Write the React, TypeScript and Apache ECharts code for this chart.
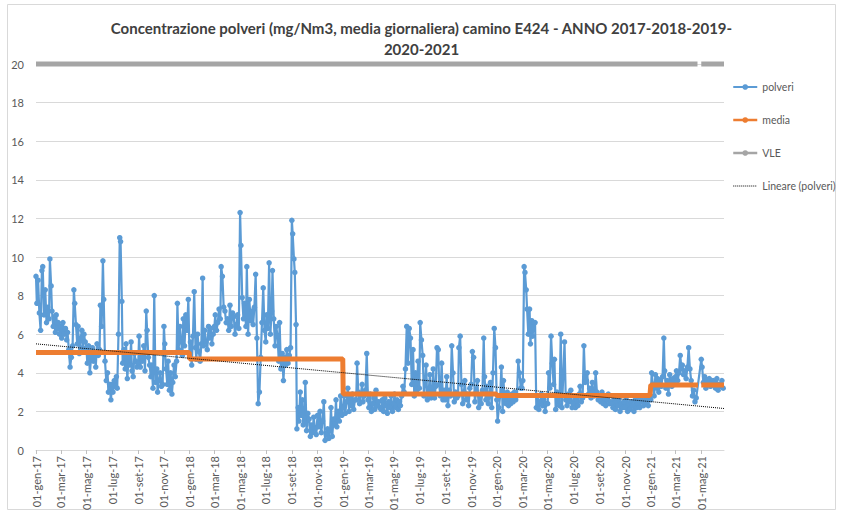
import React, { useEffect, useRef } from "react";
import * as echarts from "echarts";

// ---- Data ----
const mesi = ["gen", "feb", "mar", "apr", "mag", "giu", "lug", "ago", "set", "ott", "nov", "dic"];
const anni = [2017, 2018, 2019, 2020, 2021];
const yTickStep = 2;
const yMax = 20;

// daily dust concentrations, values read per month (gen..dic), spread across each month
const polveri2017 = [
  [9.0, 7.6, 8.8, 7.1, 6.2, 9.3, 9.5, 7.0, 8.3, 6.6, 7.4],
  [6.8, 9.9, 8.5, 7.2, 6.4, 6.9, 6.1, 7.0, 6.3, 6.6, 6.0],
  [6.4, 5.8, 6.6, 6.0, 6.3, 5.7, 6.1, 5.2, 4.3, 4.8, 5.4],
  [8.3, 7.6, 6.5, 5.5, 6.4, 5.0, 5.8, 6.2, 5.3, 6.0, 5.6],
  [5.2, 4.5, 5.4, 4.0, 4.8, 5.3, 4.6, 5.0, 4.3, 5.5, 4.9],
  [5.2, 7.5, 6.4, 9.8, 7.8, 4.6, 3.6, 4.0, 3.0, 3.4, 2.6],
  [3.4, 3.0, 3.6, 3.3, 3.8, 3.2, 6.0, 11.0, 10.8, 7.7, 4.5, 5.2],
  [4.2, 5.5, 3.7, 4.8, 4.4, 5.6, 4.1, 3.8, 5.0, 4.6, 4.3],
  [4.5, 5.9, 4.3, 5.0, 4.6, 5.4, 4.1, 7.2, 6.2, 4.8, 4.4],
  [3.8, 4.4, 3.2, 8.0, 3.5, 4.2, 3.0, 3.6, 4.0, 3.3, 3.4],
  [6.4, 5.5, 4.2, 3.4, 4.6, 3.1, 4.0, 2.9, 3.5, 4.4, 3.8],
  [4.6, 7.6, 5.2, 6.4, 5.6, 4.9, 6.8, 5.4, 7.0, 6.2, 7.8],
];
const polveri2018 = [
  [4.8, 5.6, 4.4, 5.9, 8.2, 5.3, 4.7, 6.0, 5.1, 4.6, 5.5],
  [8.9, 5.4, 6.2, 5.6, 5.2, 6.4, 5.8, 6.3, 5.5, 6.0],
  [6.4, 7.0, 6.2, 6.6, 7.3, 6.8, 9.5, 9.0, 7.4, 7.2, 6.6],
  [6.8, 6.2, 7.5, 6.4, 7.1, 6.9, 6.0, 6.5, 7.0, 6.3],
  [12.3, 10.6, 7.9, 6.8, 7.6, 6.4, 9.5, 6.0, 7.8, 6.7, 7.2],
  [6.5, 7.4, 9.1, 5.8, 2.4, 3.0, 4.8, 6.6, 8.4, 6.2],
  [5.6, 7.0, 6.3, 9.7, 6.0, 7.2, 9.3, 6.8, 5.4, 6.4, 5.9],
  [4.6, 6.6, 4.2, 5.0, 3.6, 4.8, 4.4, 5.2, 4.5, 4.9, 5.3],
  [11.9, 11.2, 9.9, 9.2, 6.5, 1.1, 2.2, 1.5, 3.0, 1.8, 2.6, 1.3],
  [1.4, 3.5, 1.0, 1.9, 1.6, 0.7, 1.3, 0.9, 1.7, 1.1, 0.8],
  [1.8, 1.2, 2.0, 0.9, 1.5, 2.5, 0.5, 0.8, 1.1, 0.6],
  [1.0, 2.2, 0.7, 1.6, 1.3, 2.6, 1.2, 2.0, 1.5, 2.8, 1.8],
];
const polveri2019 = [
  [2.2, 2.8, 1.9, 2.5, 3.2, 2.0, 2.7, 2.3, 2.9, 2.1, 2.6],
  [2.6, 4.5, 3.0, 2.4, 2.9, 3.4, 2.5, 2.8, 3.1, 5.0],
  [2.6, 2.2, 2.9, 2.0, 2.4, 2.7, 2.1, 3.1, 2.3, 2.5, 2.2],
  [2.1, 2.6, 2.0, 2.7, 2.3, 1.9, 2.5, 2.2, 2.8, 2.0],
  [2.4, 2.9, 2.2, 2.6, 2.1, 2.5, 2.3, 2.8, 3.3, 3.0, 4.2],
  [6.4, 4.5, 6.3, 5.8, 3.4, 5.2, 2.8, 4.0, 3.1, 4.6],
  [3.2, 6.6, 5.7, 4.9, 2.8, 3.6, 4.4, 2.6, 3.0, 3.9, 2.7],
  [3.0, 4.2, 2.7, 3.3, 5.3, 5.2, 3.4, 2.8, 4.5, 2.6, 3.1],
  [2.6, 3.8, 2.3, 3.1, 2.8, 5.4, 4.0, 2.5, 3.0, 2.7],
  [2.8, 5.3, 5.9, 3.4, 2.4, 3.0, 3.6, 2.6, 2.9, 2.3, 3.2],
  [3.4, 5.1, 4.8, 2.5, 3.0, 3.6, 2.2, 2.8, 2.4, 3.1],
  [5.8, 3.8, 2.6, 3.3, 2.4, 2.9, 3.5, 2.2, 4.0, 6.3, 5.3],
];
const polveri2020 = [
  [2.6, 1.5, 2.2, 2.8, 4.3, 2.0, 3.6, 2.5, 2.4, 3.0, 2.3],
  [2.7, 2.4, 2.9, 2.5, 3.0, 2.6, 2.8, 4.6, 4.0, 3.2],
  [3.2, 3.6, 9.5, 9.2, 8.3, 7.3, 6.0, 7.3, 5.5, 6.7, 5.9, 6.6],
  [6.6, 2.2, 2.8, 2.1, 2.5, 2.9, 2.3, 2.6, 2.0, 2.4],
  [2.4, 4.0, 3.2, 5.9, 4.5, 3.4, 4.7, 2.1, 3.0, 2.5, 2.3],
  [6.0, 2.2, 3.8, 5.6, 2.6, 2.3, 2.9, 2.5, 3.1, 2.2],
  [2.4, 2.8, 2.2, 2.6, 2.3, 2.9, 3.3, 2.5, 2.7, 5.4, 3.5],
  [3.6, 4.0, 2.9, 3.2, 2.7, 3.5, 3.0, 2.8, 4.0, 3.0, 2.6],
  [2.8, 2.5, 3.0, 2.4, 2.7, 2.3, 2.6, 2.9, 2.4, 2.5],
  [2.4, 2.2, 2.7, 2.1, 2.5, 2.3, 2.6, 2.0, 2.4, 2.2, 2.5],
  [2.2, 2.6, 2.0, 2.4, 2.1, 2.5, 2.3, 2.0, 2.6, 2.2],
  [2.4, 2.6, 2.2, 2.7, 2.5, 2.3, 2.8, 2.4, 2.6, 2.3, 2.7],
];
const polveri2021 = [
  [2.6, 4.0, 3.4, 2.8, 3.9, 3.2, 3.7, 3.0, 3.6, 3.3, 3.8],
  [5.8, 4.1, 3.2, 3.6, 2.9, 3.9, 3.5, 3.3, 3.7, 3.4],
  [3.8, 4.1, 3.6, 4.0, 4.9, 4.2, 4.4, 3.9, 4.1, 3.7, 4.3],
  [5.3, 4.2, 3.6, 2.8, 3.1, 2.5, 2.7, null, null, null],
  [4.7, 4.3, 3.5, 3.8, 3.2, 3.6, 3.4, 3.7, 3.3, 3.5, 3.6],
  [3.5, 3.2, 3.7, 3.1, 3.4, 3.3, 3.6, 3.2],
];

const mediaAnnua = [5.05, 4.72, 2.9, 2.82, 3.37];
const vleValore = 20;
const lacunaDa = "2021-04-24";
const lacunaA = "2021-04-30";
const trendInizio = 5.5;
const trendFine = 2.15;
const dataInizio = [2017, 0, 1];
const dataFine = [2021, 5, 24];

// ---- Build daily category table ----
function buildDays(): string[] {
  const out: string[] = [];
  const s = Date.UTC(dataInizio[0], dataInizio[1], dataInizio[2]);
  const e = Date.UTC(dataFine[0], dataFine[1], dataFine[2]);
  for (let t = s; t <= e; t += 86400000) out.push(new Date(t).toISOString().slice(0, 10));
  return out;
}

export default function App() {
  const ref = useRef<HTMLDivElement>(null);

  useEffect(() => {
    if (!ref.current) return;
    const days = buildDays();
    const N = days.length;
    const polveri: (number | null)[] = days.map(() => null);
    const perAnno = [polveri2017, polveri2018, polveri2019, polveri2020, polveri2021];
    perAnno.forEach((mesiVals, yi) => {
      mesiVals.forEach((vals: (number | null)[], m: number) => {
        const key = `${anni[yi]}-${String(m + 1).padStart(2, "0")}-01`;
        const s = days.indexOf(key);
        if (s < 0) return;
        const dim = new Date(Date.UTC(anni[yi], m + 1, 0)).getUTCDate();
        const span = Math.min(dim, N - s);
        vals.forEach((v, k) => {
          if (v == null) return;
          polveri[s + Math.floor((k * span) / vals.length)] = v;
        });
      });
    });
    const inLacuna = (d: string) => d >= lacunaDa && d <= lacunaA;
    const media = days.map((d) => (inLacuna(d) ? null : mediaAnnua[parseInt(d.slice(0, 4)) - anni[0]]));
    const vle = days.map((d) => (inLacuna(d) ? null : vleValore));
    const trend = days.map((_, i) => (i === 0 ? trendInizio : i === N - 1 ? trendFine : null));

    const isLabel = (_i: number, v: string) =>
      v.slice(8) === "01" && parseInt(v.slice(5, 7), 10) % 2 === 1;

    const chart = echarts.init(ref.current, null, { renderer: "svg" });
    const txt = "#595959";
    chart.setOption({
      animation: false,
      textStyle: { fontFamily: "Lato" },
      title: {
        text: "Concentrazione polveri (mg/Nm3, media giornaliera) camino E424 - ANNO 2017-2018-2019-\n2020-2021",
        left: "center",
        top: 12,
        textStyle: { fontFamily: "Lato", fontSize: 15, fontWeight: "bold", color: "#404040", lineHeight: 21 },
      },
      graphic: [
        {
          type: "rect",
          shape: { x: 7.5, y: 4.5, width: 828, height: 505 },
          style: { fill: "none", stroke: "#d9d9d9", lineWidth: 1 },
          silent: true,
        },
      ],
      legend: {
        orient: "vertical",
        left: 727,
        top: 75,
        itemGap: 19,
        itemWidth: 24,
        itemHeight: 7,
        textStyle: { color: txt, fontSize: 10.5, lineHeight: 14 },
        data: [
          { name: "polveri", lineStyle: { width: 2 } },
          { name: "media", lineStyle: { width: 2.5 } },
          { name: "VLE", lineStyle: { width: 2.5 } },
          { name: "Lineare (polveri)", lineStyle: { width: 1 }, itemStyle: { opacity: 0 } },
        ],
      },
      grid: { left: 36, right: 119, top: 64, bottom: 63, containLabel: false },
      xAxis: {
        type: "category",
        data: days,
        boundaryGap: false,
        axisLine: { lineStyle: { color: "#d9d9d9" } },
        axisTick: { show: true, interval: isLabel, length: 4, lineStyle: { color: "#bfbfbf" } },
        axisLabel: {
          interval: isLabel,
          rotate: 90,
          color: txt,
          fontSize: 11,
          margin: 6,
          formatter: (v: string) => `${v.slice(8)}-${mesi[parseInt(v.slice(5, 7), 10) - 1]}-${v.slice(2, 4)}`,
        },
        splitLine: { show: false },
      },
      yAxis: {
        type: "value",
        min: 0,
        max: yMax,
        interval: yTickStep,
        axisLine: { show: false },
        axisTick: { show: false },
        axisLabel: { color: txt, fontSize: 11, margin: 12 },
        splitLine: { lineStyle: { color: "#d9d9d9", width: 1 } },
      },
      series: [
        {
          name: "polveri",
          type: "line",
          data: polveri,
          connectNulls: true,
          showSymbol: true,
          showAllSymbol: true,
          symbol: "circle",
          symbolSize: 5.5,
          itemStyle: { color: "#5b9bd5" },
          lineStyle: { color: "#5b9bd5", width: 2.2 },
          z: 2,
        },
        {
          name: "media",
          type: "line",
          data: media,
          connectNulls: false,
          showSymbol: false,
          symbol: "circle",
          itemStyle: { color: "#ed7d31" },
          lineStyle: { color: "#ed7d31", width: 5 },
          z: 3,
        },
        {
          name: "VLE",
          type: "line",
          data: vle,
          connectNulls: false,
          showSymbol: false,
          symbol: "circle",
          clip: false,
          itemStyle: { color: "#a5a5a5" },
          lineStyle: { color: "#a5a5a5", width: 5 },
          z: 3,
        },
        {
          name: "Lineare (polveri)",
          type: "line",
          data: trend,
          connectNulls: true,
          showSymbol: false,
          symbol: "none",
          itemStyle: { color: "#000000" },
          lineStyle: { color: "#000000", width: 1, type: "dotted" },
          z: 4,
        },
      ],
    });
    return () => chart.dispose();
  }, []);

  return (
    <div
      ref={ref}
      style={{ position: "absolute", left: 0, top: 0, width: 843, height: 513, background: "#ffffff" }}
    />
  );
}
